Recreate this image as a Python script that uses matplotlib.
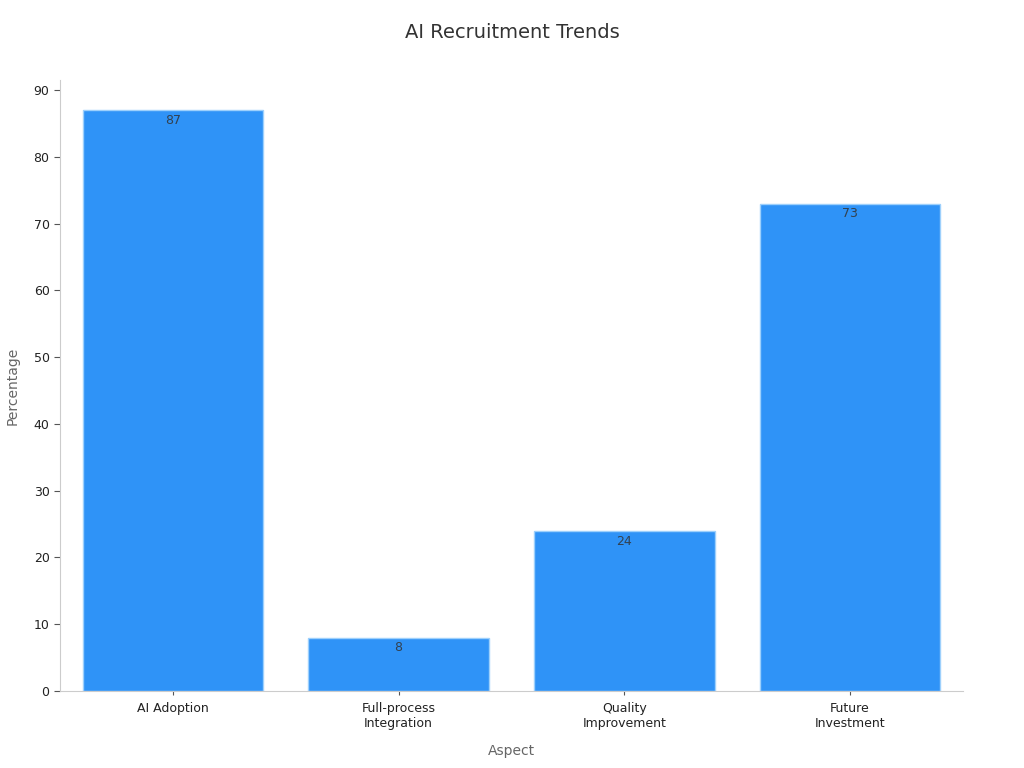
import matplotlib
matplotlib.use("Agg")
import matplotlib.pyplot as plt

categories = ["AI Adoption", "Full-process\nIntegration", "Quality\nImprovement", "Future\nInvestment"]
values = [87, 8, 24, 73]

fig = plt.figure(figsize=(10.24, 7.68), dpi=100)
ax = fig.add_axes([0.0586, 0.1003, 0.8818, 0.7955])

x = list(range(len(categories)))
bars = ax.bar(x, values, width=0.8, color="#2F93F7", edgecolor="#9DD0FC", linewidth=1)

for xi, v in zip(x, values):
    ax.annotate(str(v), xy=(xi, v), xytext=(0, -7.5), textcoords="offset points",
                ha="center", va="center", fontsize=9, color="#333333", alpha=0.85)

ax.set_xlim(-0.5, 3.5)
ax.set_ylim(0, 91.5)
ax.set_yticks(range(0, 91, 10))
ax.set_xticks(x)
ax.set_xticklabels(categories, fontsize=9, color="#222222")
ax.tick_params(axis="y", labelsize=9, labelcolor="#222222", color="#555555", length=4)
ax.tick_params(axis="x", color="#555555", length=3, pad=5)

for s in ["top", "right"]:
    ax.spines[s].set_visible(False)
for s in ["left", "bottom"]:
    ax.spines[s].set_color("#cccccc")

ax.set_xlabel("Aspect", fontsize=10, color="#666666", labelpad=10)
ax.set_ylabel("Percentage", fontsize=10, color="#666666", labelpad=10)
fig.suptitle("AI Recruitment Trends", fontsize=14, color="#333333", y=0.97)

fig.savefig("out.png", dpi=100)
